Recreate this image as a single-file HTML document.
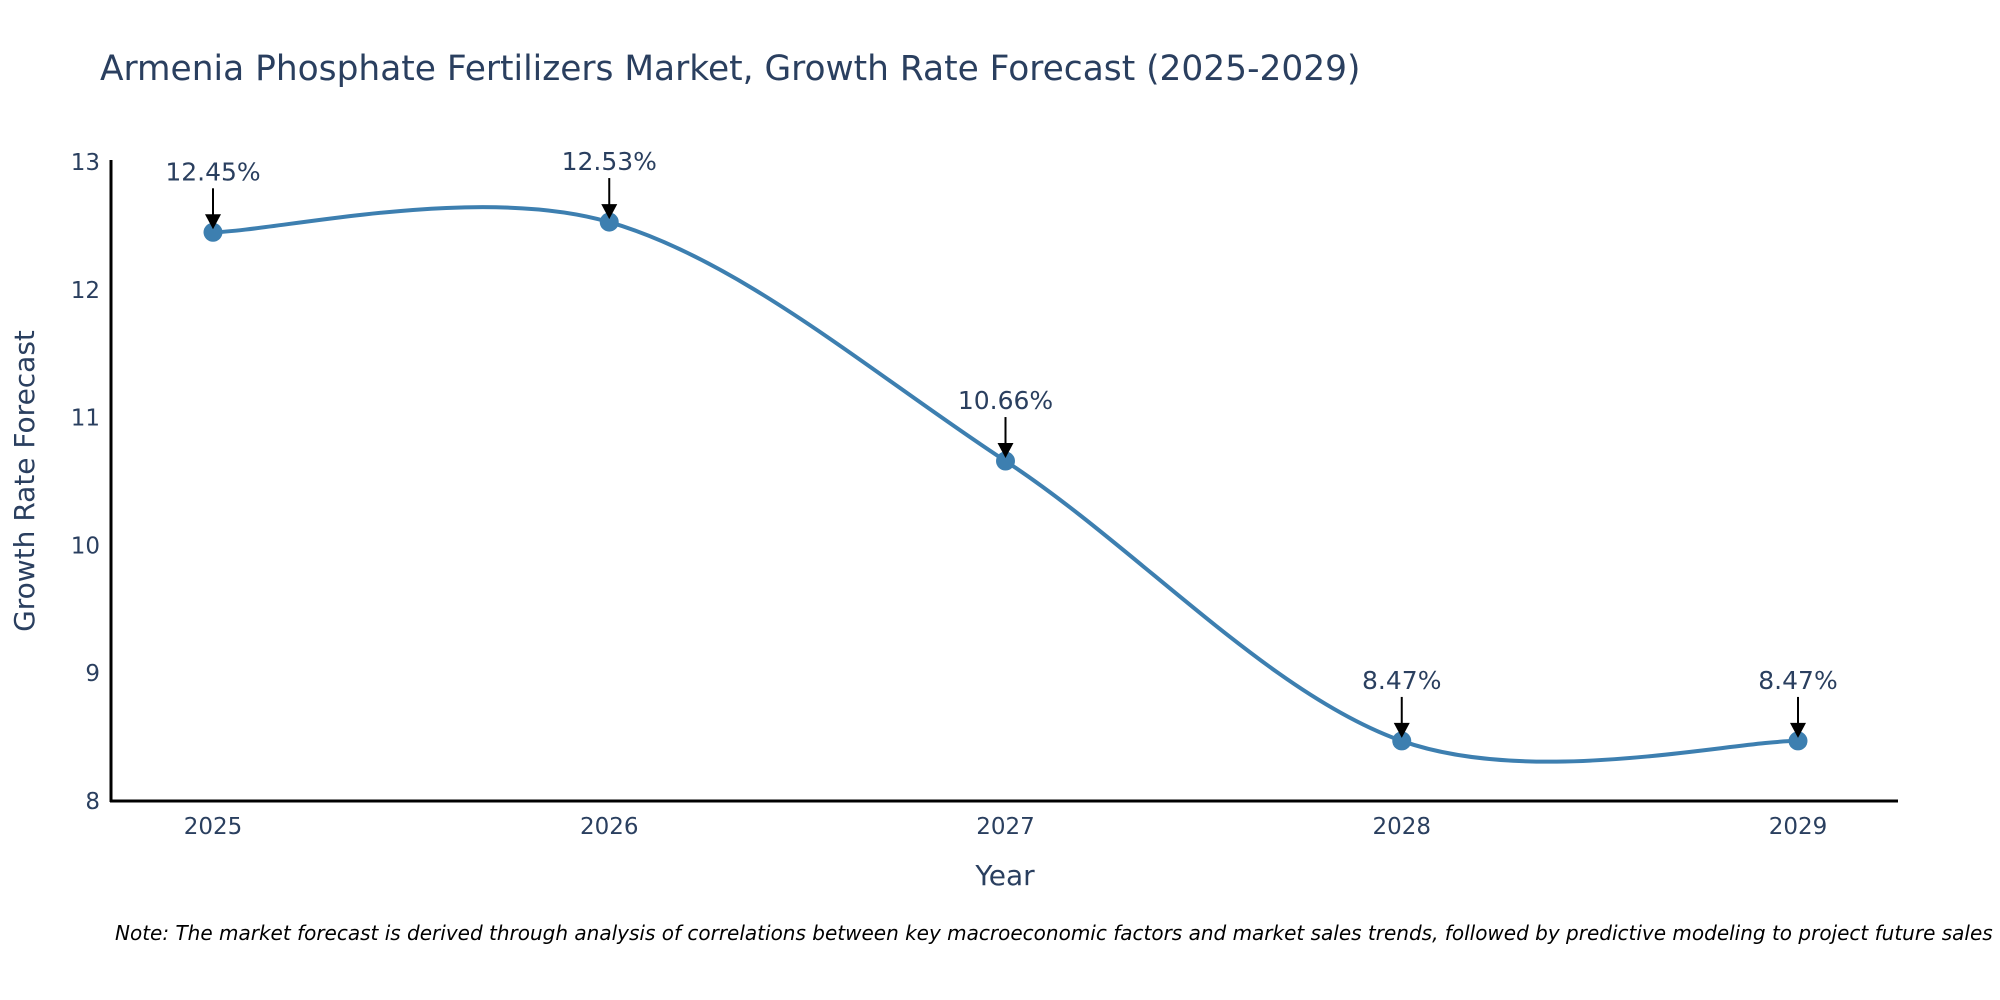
<!DOCTYPE html>
<html><head><meta charset="utf-8"><style>
html,body{margin:0;padding:0;background:#fff;}
svg{display:block;font-family:"DejaVu Sans","Liberation Sans",sans-serif;}
</style></head><body>
<svg id="chart" width="2000" height="1000">
<text x="100" y="80" font-size="34.4" fill="#2a3f5f">Armenia Phosphate Fertilizers Market, Growth Rate Forecast (2025-2029)</text>
<g id="yticks"></g><g id="xticks"></g>
<line x1="111" y1="160" x2="111" y2="802" stroke="#000" stroke-width="3"/>
<line x1="110" y1="801" x2="1898" y2="801" stroke="#000" stroke-width="3"/>
<text transform="translate(34,481) rotate(-90)" text-anchor="middle" font-size="28" fill="#2a3f5f">Growth Rate Forecast</text>
<text x="1005" y="885" text-anchor="middle" font-size="28" fill="#2a3f5f">Year</text>
<text x="115" y="940" font-size="20" font-style="italic" fill="#000">Note: The market forecast is derived through analysis of correlations between key macroeconomic factors and market sales trends, followed by predictive modeling to project future sales</text>
<g id="series"></g>
</svg>
<script>
const years = ["2025","2026","2027","2028","2029"];
const values = [12.45, 12.53, 10.66, 8.47, 8.47];
const labels = ["12.45%","12.53%","10.66%","8.47%","8.47%"];
const yTicks = [8, 9, 10, 11, 12, 13];

const NS = "http://www.w3.org/2000/svg";
const X0 = 213, X1 = 1798, Y0 = 801, Y1 = 162, VMIN = 8, VMAX = 13;
function xs(i){ return X0 + (X1 - X0) * i / (years.length - 1); }
function ys(v){ return Y0 - (v - VMIN) / (VMAX - VMIN) * (Y0 - Y1); }
function mk(tag, attrs, parent){ const e = document.createElementNS(NS, tag); for (const k in attrs) e.setAttribute(k, attrs[k]); parent.appendChild(e); return e; }

const yg = document.getElementById("yticks");
yTicks.forEach(t => {
  const e = mk("text", {x: 100, y: ys(t) + 8, "text-anchor": "end", "font-size": 23, fill: "#2a3f5f"}, yg);
  
  
  e.textContent = t;
});
const xg = document.getElementById("xticks");
years.forEach((y, i) => {
  const e = mk("text", {x: xs(i), y: 834, "text-anchor": "middle", "font-size": 23, fill: "#2a3f5f"}, xg);
  
  
  e.textContent = y;
});

const sg = document.getElementById("series");
const pts = values.map((v, i) => [xs(i), ys(v)]);
let d = "M" + pts[0][0] + "," + pts[0][1];
for (let i = 0; i < pts.length - 1; i++) {
  const p0 = pts[Math.max(0, i - 1)], p1 = pts[i], p2 = pts[i + 1], p3 = pts[Math.min(pts.length - 1, i + 2)];
  const t = 1 / 6;
  const c1 = [p1[0] + (p2[0] - p0[0]) * t, p1[1] + (p2[1] - p0[1]) * t];
  const c2 = [p2[0] - (p3[0] - p1[0]) * t, p2[1] - (p3[1] - p1[1]) * t];
  d += " C" + c1 + " " + c2 + " " + p2;
}
const line = mk("path", {d: d, fill: "none", stroke: "#3d7fb0", "stroke-width": 4}, sg);



pts.forEach((p, i) => {
  const c = mk("circle", {cx: p[0], cy: p[1], r: 9.5, fill: "#3d7fb0"}, sg);
  
  
  const a = mk("line", {x1: p[0], y1: p[1] - 44, x2: p[0], y2: p[1] - 14, stroke: "#000", "stroke-width": 2}, sg);
  
  
  const h = mk("polygon", {points: (p[0]-8)+","+(p[1]-18)+" "+(p[0]+8)+","+(p[1]-18)+" "+p[0]+","+(p[1]-3), fill: "#000"}, sg);
  
  
  const tx = mk("text", {x: p[0], y: p[1] - 52, "text-anchor": "middle", "font-size": 25, fill: "#2a3f5f"}, sg);
  
  
  tx.textContent = labels[i];
});
</script>
</body></html>
